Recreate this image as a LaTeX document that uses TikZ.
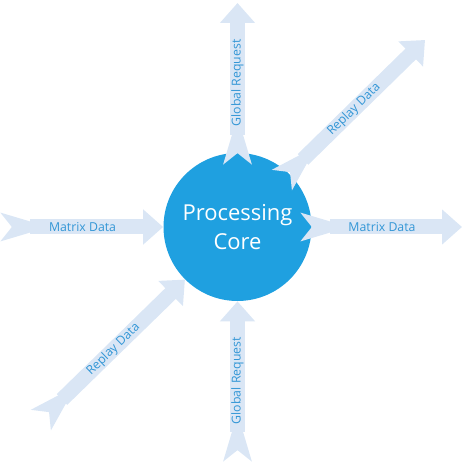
\documentclass[tikz,border=0pt]{standalone}
\usepackage{fontspec}
\setmainfont{Open Sans}
\usepackage{tikz}
\usetikzlibrary{arrows.meta}

\begin{document}
\begin{tikzpicture}[
    flow/.style={line width=0.3cm, draw=flowblue,
      {Stealth[reversed, width=0.54cm, length=0.95cm, inset=0.2cm]}-{Triangle[width=0.68cm, length=0.4cm]}},
    flowlabel/.style={midway, sloped, font=\fontsize{7}{8}\selectfont, text=labelblue}]
  \definecolor{coreblue}{HTML}{1FA0E0}
  \definecolor{flowblue}{HTML}{DAE6F5}
  \definecolor{labelblue}{HTML}{3296D6}

  \useasboundingbox (-4.75, -4.76) rectangle (4.55, 4.54);

  \node[circle, fill=coreblue, minimum size=2.96cm, inner sep=0pt, text=white, align=center,
    font=\fontsize{12.5}{16}\selectfont] (core) at (0,0) {Processing\\Core};

  \coordinate (leftin) at (-4.71, 0);
  \coordinate (lowin) at (-3.91, -3.84);
  \coordinate (bottomin) at (0, -4.66);
  \coordinate (topout) at (0, 1.28);
  \coordinate (topend) at (0, 4.48);
  \coordinate (diagout) at (0.91, 0.96);
  \coordinate (diagend) at (3.75, 3.74);
  \coordinate (rightout) at (1.29, 0);
  \coordinate (rightend) at (4.49, 0);

  \draw[flow] (leftin) -- (core.west) node[flowlabel] {Matrix Data};
  \draw[flow] (lowin) -- (core.225) node[flowlabel] {Replay Data};
  \draw[flow] (bottomin) -- (core.south) node[flowlabel] {Global Request};
  \draw[flow] (topout) -- (topend) node[flowlabel] {Global Request};
  \draw[flow] (diagout) -- (diagend) node[flowlabel] {Replay Data};
  \draw[flow] (rightout) -- (rightend) node[flowlabel] {Matrix Data};
\end{tikzpicture}
\end{document}
